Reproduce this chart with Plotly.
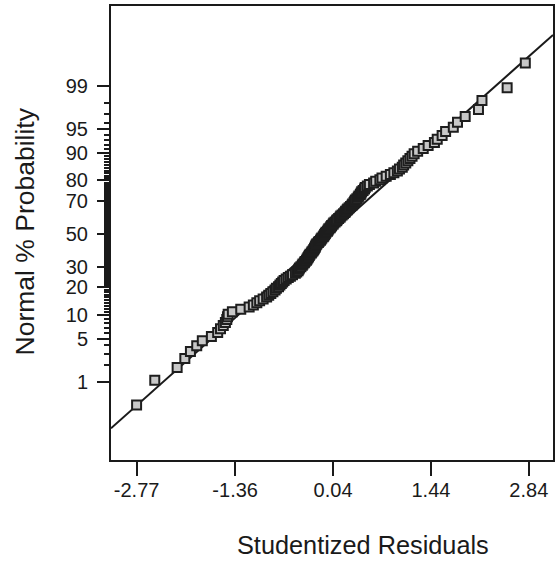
from statistics import NormalDist
import plotly.graph_objects as go

# Studentized residuals (sorted)
residuals = [
    -2.77, -2.51, -2.19, -2.08, -2.00, -1.91, -1.83, -1.70, -1.61, -1.57,
    -1.53, -1.50, -1.48, -1.47, -1.46, -1.40, -1.28, -1.16, -1.10, -1.05,
    -1.01, -0.96, -0.91, -0.88, -0.85, -0.82, -0.79, -0.77, -0.74, -0.72,
    -0.70, -0.68, -0.66, -0.63, -0.60, -0.57, -0.54, -0.50, -0.48, -0.46,
    -0.45, -0.44, -0.42, -0.40, -0.39, -0.37, -0.36, -0.34, -0.33, -0.32,
    -0.31, -0.30, -0.29, -0.27, -0.26, -0.245, -0.235, -0.225, -0.215, -0.21,
    -0.20, -0.19, -0.17, -0.16, -0.14, -0.13, -0.12, -0.10, -0.09, -0.08,
    -0.07, -0.06, -0.04, -0.03, -0.02, 0.00, 0.01, 0.02, 0.04, 0.05,
    0.07, 0.09, 0.10, 0.12, 0.14, 0.15, 0.17, 0.19, 0.21, 0.22,
    0.24, 0.25, 0.27, 0.29, 0.31, 0.32, 0.34, 0.35, 0.36, 0.38,
    0.40, 0.41, 0.43, 0.44, 0.45, 0.47, 0.49, 0.50, 0.53, 0.56,
    0.62, 0.65, 0.71, 0.74, 0.80, 0.86, 0.91, 0.96, 0.99, 1.03,
    1.05, 1.08, 1.11, 1.14, 1.17, 1.20, 1.25, 1.33, 1.40, 1.49,
    1.53, 1.60, 1.65, 1.76, 1.82, 1.93, 2.12, 2.17, 2.53, 2.79,
]

x_tick_vals = [-2.77, -1.36, 0.04, 1.44, 2.84]
x_tick_text = ["-2.77", "-1.36", "0.04", "1.44", "2.84"]

y_major_pct = [1, 5, 10, 20, 30, 50, 70, 80, 90, 95, 99]
y_minor_pct = [p for p in range(2, 99) if p not in y_major_pct]

# Reference normal line: z = slope * x + intercept
line_slope = 0.979
line_intercept = 0.013

x_range = [-3.136, 3.186]
y_range = [-3.556, 3.587]

nd = NormalDist()
n = len(residuals)
z_pos = [nd.inv_cdf((i - 0.5) / n) for i in range(1, n + 1)]

FONT = "Liberation Sans, Arial, Helvetica, sans-serif"
INK = "#1a1a1a"

fig = go.Figure()
line_x = x_range
line_y = [line_slope * v + line_intercept for v in line_x]
fig.add_trace(go.Scatter(
    x=line_x, y=line_y, mode="lines",
    line=dict(color=INK, width=2), hoverinfo="skip", showlegend=False,
))
fig.add_trace(go.Scatter(
    x=residuals, y=z_pos, mode="markers",
    marker=dict(symbol="square", size=9, color="#c8c8c8",
                line=dict(color="#1e1e1e", width=2)),
    showlegend=False,
))
# invisible trace on an overlay axis that carries the long x tick marks
fig.add_trace(go.Scatter(
    x=[x_range[0]], y=[y_range[0]], xaxis="x2", mode="markers",
    marker=dict(opacity=0), hoverinfo="skip", showlegend=False,
))

fig.update_layout(
    width=556, height=561,
    margin=dict(l=111, r=1, t=6, b=101),
    paper_bgcolor="white", plot_bgcolor="white",
    font=dict(family=FONT, color=INK),
    xaxis=dict(
        range=x_range, showgrid=False, zeroline=False,
        showline=True, linewidth=2, linecolor=INK, mirror=True,
        ticks="outside", ticklen=11, tickwidth=2, tickcolor=INK,
        tickmode="array", tickvals=x_tick_vals, ticktext=x_tick_text,
        tickfont=dict(size=20, family=FONT, color=INK),
    ),
    xaxis2=dict(
        overlaying="x", side="bottom", anchor="y",
        range=x_range, showgrid=False, zeroline=False, showline=False,
        ticks="outside", ticklen=15, tickwidth=2, tickcolor=INK,
        tickmode="array", tickvals=x_tick_vals, showticklabels=False,
    ),
    yaxis=dict(
        range=y_range, showgrid=False, zeroline=False,
        showline=True, linewidth=2, linecolor=INK, mirror=True,
        ticks="outside", ticklen=12, tickwidth=2, tickcolor=INK,
        tickmode="array",
        tickvals=[nd.inv_cdf(p / 100) for p in y_major_pct],
        ticktext=[str(p) for p in y_major_pct],
        tickfont=dict(size=20, family=FONT, color=INK),
        ticklabelstandoff=5,
        minor=dict(ticks="outside", ticklen=5, tickwidth=1.5, tickcolor=INK,
                   tickmode="array",
                   tickvals=[nd.inv_cdf(p / 100) for p in y_minor_pct]),
    ),
    annotations=[
        dict(text="Studentized Residuals", xref="paper", yref="paper",
             x=0.570, y=-0.187, xanchor="center", yanchor="middle",
             showarrow=False, font=dict(size=25.3, family=FONT, color=INK)),
        dict(text="Normal % Probability", xref="paper", yref="paper",
             x=-0.194, y=0.504, xanchor="center", yanchor="middle", textangle=-90,
             showarrow=False, font=dict(size=26.5, family=FONT, color=INK)),
    ],
)

fig.write_html("out.html")
